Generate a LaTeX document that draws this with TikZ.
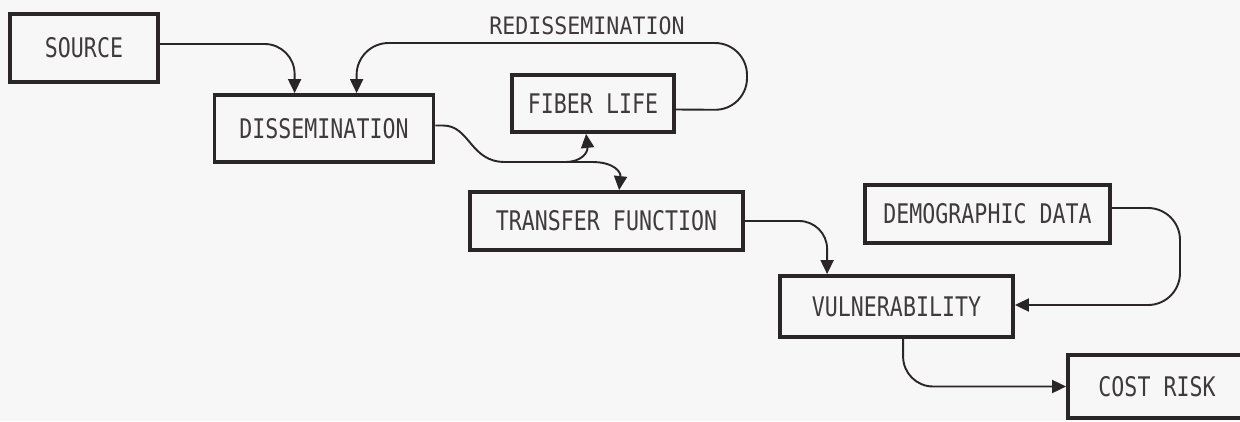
\documentclass[tikz,border=0pt]{standalone}
\usepackage{fontspec}
\usetikzlibrary{arrows.meta,calc}
\newfontfamily\diagfont{DejaVu Sans Mono}[FakeStretch=0.8]
\newfontfamily\labfont{DejaVu Sans Mono}[FakeStretch=0.9]
\definecolor{ink}{HTML}{2A2526}
\definecolor{paper}{HTML}{F7F7F7}
\begin{document}
\begin{tikzpicture}[x=1pt,y=-1pt,
  box/.style={draw=ink,line width=3.8pt,minimum width=#1,inner sep=0pt,
    font=\diagfont\fontsize{27}{27}\selectfont,text=ink!90},
  conn/.style={draw=ink,line width=1.9pt,-{Triangle[length=14pt,width=13pt]}},
  plain/.style={draw=ink,line width=1.9pt},
  lab/.style={font=\labfont\fontsize{24}{24}\selectfont,text=ink!90,inner sep=0pt}]
\fill[paper] (0,0) rectangle (1240,421);
\useasboundingbox (0,0) rectangle (1240,421);
\node[box=148pt,minimum height=68pt] (src) at (84,48) {SOURCE};
\node[box=219pt,minimum height=67pt] (dis) at (324,128.5) {DISSEMINATION};
\node[box=162pt,minimum height=57pt] (fib) at (593,103.5) {FIBER LIFE};
\node[box=273pt,minimum height=58pt] (tf) at (606.5,221) {TRANSFER FUNCTION};
\node[box=245pt,minimum height=58pt] (dem) at (987.5,214) {DEMOGRAPHIC DATA};
\node[box=233pt,minimum height=61pt] (vul) at (896.5,306.5) {VULNERABILITY};
\node[box=178pt,minimum height=63pt] (cost) at (1157,386.5) {COST RISK};
\node[lab] (redis) at (587,26) {REDISSEMINATION};
% source -> dissemination
\coordinate (srcin) at ($(dis.north west)+(82,0)$);
\draw[conn,rounded corners=30pt] ($(src.east)+(0,-4)$) -| (srcin);
% redissemination loop
\coordinate (fibout) at ($(fib.east)+(0,6)$);
\coordinate (loopA) at (747,110);
\coordinate (loopB) at (747,43);
\coordinate (redin) at ($(dis.north west)+(144,0)$);
\draw[conn,rounded corners=32pt] (fibout) -- (loopA) -- (loopB) -| (redin);
% dissemination -> fiber life / transfer function
\coordinate (split) at (565,162);
\coordinate (fibin) at ($(fib.south west)+(76,0)$);
\coordinate (tfin) at ($(tf.north west)+(151,0)$);
\draw[plain] ($(dis.east)+(0,-3)$) -- (443,125.5) .. controls (470,125.5) and (470,162) .. (505,162) -- (split);
\draw[conn] (split) .. controls (582,162) and (588,152) .. (fibin);
\draw[conn] (split) -- (592,162) .. controls (614,162) and (621,172) .. (tfin);
% transfer function -> vulnerability
\coordinate (vulin) at ($(vul.north west)+(49,0)$);
\draw[conn,rounded corners=28pt] (tf.east) -| (vulin);
% demographic -> vulnerability
\coordinate (demout) at ($(dem.east)+(0,-6)$);
\coordinate (dA) at (1180,208);
\coordinate (dB) at (1180,305);
\draw[conn,rounded corners=32pt] (demout) -- (dA) -- (dB) -- (vul.east |- dB);
% vulnerability -> cost risk
\coordinate (vulout) at ($(vul.south west)+(125,0)$);
\draw[conn,rounded corners=30pt] (vulout) |- (cost.west);
\end{tikzpicture}
\end{document}
